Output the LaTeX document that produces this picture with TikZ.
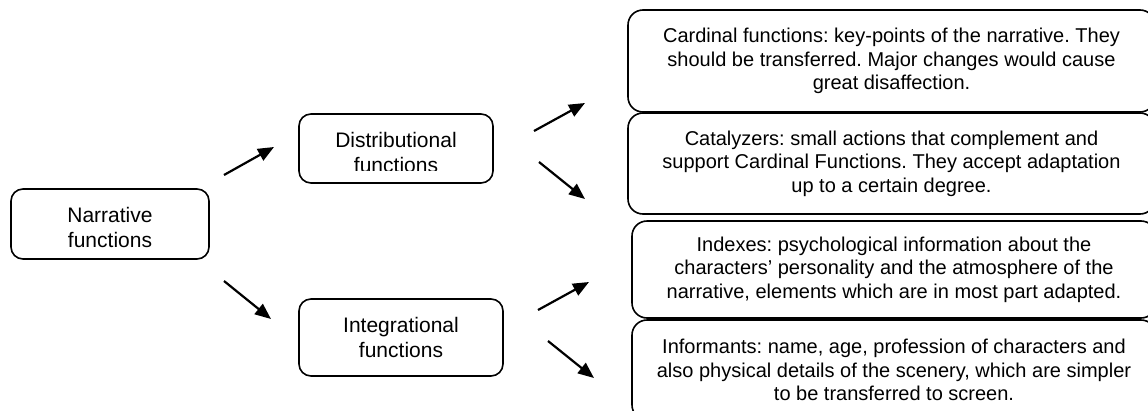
\documentclass[tikz,border=0pt]{standalone}
\usepackage{fontspec}
\setmainfont{Liberation Sans}
\usetikzlibrary{arrows.meta}
\frenchspacing
\begin{document}
\begin{tikzpicture}[x=1pt,y=-1pt,
  leftbox/.style={draw, line width=1.6pt, rounded corners=12pt, inner sep=0pt, align=center,
    font=\fontsize{21}{25}\selectfont},
  rightbox/.style={draw, line width=1.6pt, rounded corners=15pt, inner sep=0pt, align=center,
    font=\fontsize{20}{23.4}\selectfont},
  arr/.style={line width=2.2pt, -{Triangle[length=16pt,width=13pt]}}]
\useasboundingbox (0,0) rectangle (1148,410);
\clip (0,0) rectangle (1148,410);
% left boxes
\node[leftbox, minimum width=198pt, minimum height=70pt] (narr) at (110,224) {};
\node[font=\fontsize{21}{25}\selectfont, align=center, inner sep=0pt] (narrtext) at (110,227) {Narrative\\functions};
\node[leftbox, minimum width=194pt, minimum height=69pt] (dist) at (396,148.5) {};
\begin{scope}
  \clip (300,115) rectangle (492,170);
  \node[font=\fontsize{21}{25}\selectfont, align=center, inner sep=0pt] (disttext) at (396,152.5) {Distributional\\functions};
\end{scope}
\node[leftbox, minimum width=204pt, minimum height=77pt] (integ) at (401,337.5) {Integrational\\functions};
% right boxes
\node[rightbox, minimum width=527pt, minimum height=102pt] (card) at (891.5,61) {Cardinal functions: key-points of the narrative. They\\should be transferred. Major changes would cause\\great disaffection.};
\node[rightbox, minimum width=527pt, minimum height=101pt] (cata) at (891.5,163.5) {Catalyzers: small actions that complement and\\support Cardinal Functions. They accept adaptation\\up to a certain degree.};
\node[rightbox, minimum width=524pt, minimum height=97pt] (indx) at (894,269.5) {Indexes: psychological information about the\\characters’ personality and the atmosphere of the\\narrative, elements which are in most part adapted.};
\node[rightbox, minimum width=524pt, minimum height=100pt] (info) at (894,370) {Informants: name, age, profession of characters and\\also physical details of the scenery, which are simpler\\to be transferred to screen.};
% arrow end points
\coordinate (a1s) at (224,175); \coordinate (a1e) at (274,147);
\coordinate (a2s) at (224,281); \coordinate (a2e) at (271,319);
\coordinate (a3s) at (534,131); \coordinate (a3e) at (585,103);
\coordinate (a4s) at (539,162); \coordinate (a4e) at (585,199);
\coordinate (a5s) at (538,310); \coordinate (a5e) at (589,282);
\coordinate (a6s) at (548,341); \coordinate (a6e) at (594,378);
\draw[arr] (a1s) -- (a1e);
\draw[arr] (a2s) -- (a2e);
\draw[arr] (a3s) -- (a3e);
\draw[arr] (a4s) -- (a4e);
\draw[arr] (a5s) -- (a5e);
\draw[arr] (a6s) -- (a6e);
\end{tikzpicture}
\end{document}
